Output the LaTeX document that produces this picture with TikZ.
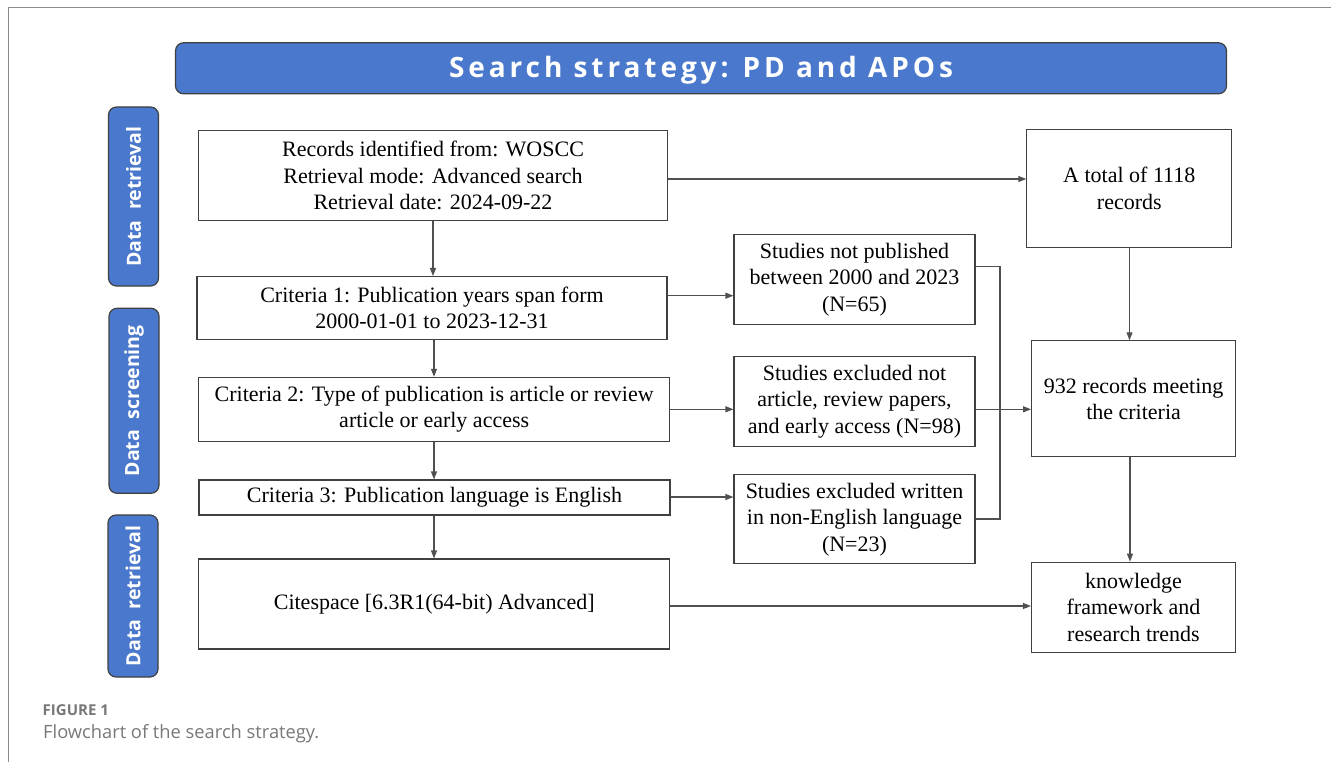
\documentclass[tikz,border=0pt]{standalone}
\usepackage{fontspec}
\usetikzlibrary{arrows.meta}
\newfontfamily\bxfont{Liberation Serif}
\newfontfamily\ttlfont{Open Sans}[LetterSpace=14]
\newfontfamily\sidefont{Open Sans}
\newfontfamily\capfont{Open Sans}
\definecolor{bluef}{RGB}{74,120,204}
\definecolor{boxc}{RGB}{64,64,64}
\definecolor{linec}{RGB}{80,80,80}
\definecolor{framec}{RGB}{140,140,140}
\definecolor{capc}{RGB}{120,120,120}
\tikzset{
  bx/.style={draw=boxc, line width=1.1pt, fill=white, inner sep=0pt, align=center,
    font=\bxfont\fontsize{22}{26.5}\selectfont},
  sidebox/.style={draw=boxc, line width=1.2pt, fill=bluef, rounded corners=8pt, inner sep=0pt},
  sidetxt/.style={text=white, rotate=90, font=\sidefont\bfseries\fontsize{19.5}{22}\selectfont, inner sep=0pt},
  arr/.style={draw=linec, line width=1.1pt, -{Triangle[length=8pt,width=6pt]}},
  ln/.style={draw=linec, line width=1.1pt},
}
\begin{document}
\begin{tikzpicture}[x=1pt,y=-1pt]
\useasboundingbox (0,0) rectangle (1331,762);
\fill[white] (0,0) rectangle (1331,762);
\draw[framec, line width=1.5pt] (8.5,762) -- (8.5,7.5) -- (1331,7.5);

% title
\node[draw=boxc, line width=1.2pt, fill=bluef, rounded corners=8pt, minimum width=1051pt, minimum height=51pt, inner sep=0pt,
  text=white, text depth=2pt, font=\ttlfont\bfseries\fontsize{28}{32}\selectfont] (title) at (701,68.3) {Search strategy:\hspace{0.5em}PD and APOs};

% side labels
\node[sidebox, minimum width=50pt, minimum height=179pt] (s1) at (133.5,196.5) {};
\node[sidetxt] (s1t) at (s1.center) {Data\hspace{0.55em}retrieval};
\node[sidebox, minimum width=50pt, minimum height=185pt] (s2) at (134,400.8) {};
\node[sidetxt] (s2t) at (s2.center) {Data\hspace{0.55em}screening};
\node[sidebox, minimum width=50pt, minimum height=162pt] (s3) at (133,596) {};
\node[sidetxt] (s3t) at (s3.center) {Data\hspace{0.55em}retrieval};

% left column
\node[bx, minimum width=469pt, minimum height=90pt] (A) at (433,175.5)
  {Records identified from: WOSCC\\Retrieval mode: Advanced search\\Retrieval date: 2024-09-22};
\node[bx, minimum width=470pt, minimum height=62.5pt] (B) at (432,307.8)
  {Criteria 1: Publication years span form\\2000-01-01 to 2023-12-31};
\node[bx, minimum width=471pt, minimum height=64pt] (C) at (434.2,409.3)
  {Criteria 2: Type of publication is article or review\\article or early access};
\node[bx, minimum width=471pt, minimum height=35pt] (D) at (434.5,497.5)
  {Criteria 3: Publication language is English};
\node[bx, minimum width=471pt, minimum height=90pt] (E) at (434.2,604)
  {Citespace [6.3R1(64-bit) Advanced]};

% middle column
\node[bx, minimum width=241pt, minimum height=90pt] (F) at (854.5,279.7)
  {Studies not published\\between 2000 and 2023\\(N=65)};
\node[bx, minimum width=241pt, minimum height=90pt] (G) at (854.5,401.3)
  {Studies excluded not\\article, review papers,\\and early access (N=98)};
\node[bx, minimum width=241pt, minimum height=89pt] (H) at (854.5,519.3)
  {Studies excluded written\\in non-English language\\(N=23)};

% right column
\node[bx, minimum width=205pt, minimum height=118pt] (I) at (1129.3,188.2)
  {A total of 1118\\records};
\node[bx, minimum width=204pt, minimum height=116pt] (J) at (1133.6,398.8)
  {932 records meeting\\the criteria};
\node[bx, minimum width=204pt, minimum height=90pt] (K) at (1133.5,607.2)
  {knowledge\\framework and\\research trends};

% connectors
\draw[arr] (A.east |- 0,179) -- (I.west |- 0,179);
\draw[arr] (A.south) -- (A.south |- B.north);
\draw[arr] (B.south -| 434,0) -- (C.north -| 434,0);
\draw[arr] (C.south -| 434,0) -- (D.north -| 434,0);
\draw[arr] (D.south -| 434,0) -- (E.north -| 434,0);
\draw[arr] (B.east |- 0,295.7) -- (F.west |- 0,295.7);
\draw[arr] (C.east |- 0,409.3) -- (G.west |- 0,409.3);
\draw[arr] (D.east |- 0,497) -- (H.west |- 0,497);
\coordinate (jt) at (1000,266.7);
\coordinate (jb) at (1000,519);
\draw[ln] (F.east |- jt) -- (jt) -- (jb) -- (H.east |- jb);
\draw[arr] (G.east |- 0,409.3) -- (J.west |- 0,409.3);
\draw[arr] (I.south -| 1129.5,0) -- (J.north -| 1129.5,0);
\draw[arr] (J.south -| 1130,0) -- (K.north -| 1130,0);
\draw[arr] (E.east |- 0,606) -- (K.west |- 0,606);

% caption
\node[anchor=base west, inner sep=0pt, text=capc, font=\capfont\bfseries\fontsize{15}{17}\selectfont] (cap1) at (42.5,715.5) {FIGURE 1};
\node[anchor=base west, inner sep=0pt, text=capc, font=\capfont\fontsize{18.3}{21}\selectfont] (cap2) at (43,738.5) {Flowchart of the search strategy.};
\end{tikzpicture}
\end{document}
